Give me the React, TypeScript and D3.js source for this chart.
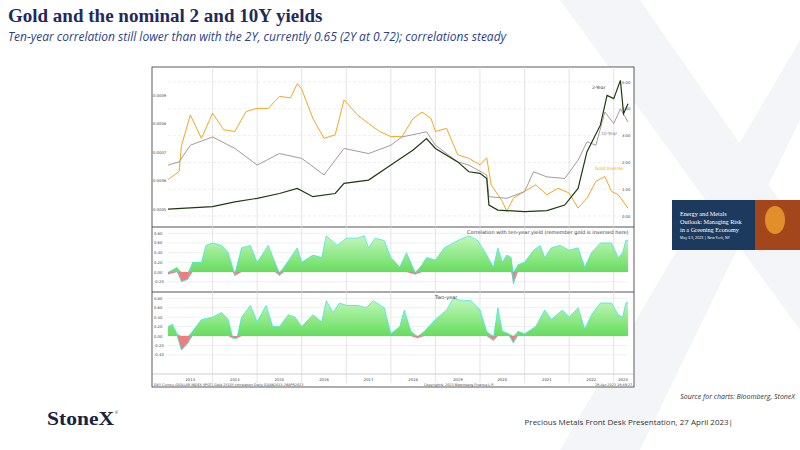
import React from "react";
import * as d3 from "d3";

const goldDates = [2013.0,2013.25,2013.3,2013.5,2013.75,2014.0,2014.25,2014.5,2014.75,2015.0,2015.25,2015.5,2015.75,2015.9,2016.0,2016.25,2016.5,2016.75,2016.95,2017.25,2017.5,2017.75,2018.0,2018.25,2018.5,2018.7,2018.9,2019.0,2019.25,2019.5,2019.75,2020.0,2020.15,2020.25,2020.5,2020.6,2020.75,2021.0,2021.25,2021.5,2021.75,2022.0,2022.2,2022.4,2022.6,2022.8,2022.95,2023.1,2023.32];
const goldInverse = [0.000603,0.000632,0.00072,0.00083,0.000748,0.000836,0.000778,0.000772,0.000842,0.000853,0.000853,0.000895,0.00089,0.00094,0.00092,0.000818,0.000748,0.00076,0.000883,0.00083,0.0008,0.000772,0.000754,0.000754,0.000818,0.00084,0.000818,0.000772,0.000783,0.00069,0.000678,0.000655,0.00068,0.000585,0.000527,0.000492,0.000538,0.000562,0.000585,0.00055,0.000573,0.000556,0.000503,0.000538,0.000597,0.000614,0.000562,0.00055,0.000503];

const y2Dates = [2013.0,2014.0,2014.5,2015.0,2015.5,2015.9,2016.25,2016.75,2016.95,2017.5,2018.0,2018.5,2018.8,2019.0,2019.5,2019.75,2020.0,2020.15,2020.2,2020.4,2021.0,2021.5,2021.9,2022.2,2022.4,2022.7,2022.85,2023.0,2023.15,2023.22,2023.32];
const yield2Y = [0.26,0.35,0.53,0.66,0.84,1.03,0.72,0.84,1.22,1.34,1.9,2.46,2.89,2.52,2.02,1.65,1.59,1.4,0.41,0.22,0.16,0.2,0.41,1.03,2.4,3.39,4.5,4.38,5.06,3.82,4.19];

const y10Dates = [2013.0,2013.25,2013.5,2014.0,2014.5,2015.0,2015.5,2016.0,2016.5,2016.95,2017.5,2018.0,2018.25,2018.8,2019.0,2019.5,2019.75,2020.15,2020.2,2020.6,2021.0,2021.2,2021.5,2021.9,2022.2,2022.4,2022.6,2022.8,2023.0,2023.15,2023.32];
const yield10Y = [1.9,2.02,2.64,2.95,2.52,1.9,2.33,2.15,1.53,2.52,2.33,2.64,2.95,3.14,2.64,2.02,1.9,1.53,0.72,0.66,0.91,1.65,1.46,1.4,2.08,2.77,2.64,3.88,3.45,4.0,3.51];

const c10Dates = [2013.0,2013.2,2013.3,2013.45,2013.55,2013.75,2013.85,2014.0,2014.2,2014.35,2014.45,2014.5,2014.65,2014.85,2015.0,2015.25,2015.4,2015.5,2015.6,2015.9,2016.0,2016.25,2016.45,2016.55,2016.8,2017.0,2017.25,2017.4,2017.5,2017.65,2017.85,2018.0,2018.2,2018.35,2018.55,2018.7,2018.8,2019.0,2019.2,2019.5,2019.75,2019.95,2020.15,2020.3,2020.4,2020.5,2020.6,2020.7,2020.75,2020.85,2021.0,2021.2,2021.35,2021.45,2021.6,2021.8,2022.0,2022.2,2022.35,2022.5,2022.7,2022.95,2023.1,2023.2,2023.27,2023.32];
const corr10Y = [-0.05,0.1,-0.2,-0.15,0.2,0.2,0.55,0.6,0.55,0.4,0.1,-0.08,0.5,0.55,0.2,0.55,0.2,-0.08,0.1,0.5,0.2,0.35,0.3,0.75,0.55,0.7,0.7,0.75,0.5,0.7,0.65,0.3,0.1,0.4,-0.05,0.15,0.3,0.25,0.5,0.65,0.75,0.65,0.35,0.1,0.5,0.2,0.35,0.3,-0.25,0.15,0.2,0.45,0.55,0.3,0.5,0.55,0.45,0.5,0.1,0.4,0.6,0.6,0.3,0.4,0.65,0.65];

const c2Dates = [2013.0,2013.1,2013.2,2013.3,2013.45,2013.55,2013.75,2014.0,2014.2,2014.35,2014.45,2014.55,2014.65,2014.85,2015.0,2015.2,2015.35,2015.5,2015.7,2015.85,2016.0,2016.25,2016.45,2016.55,2016.7,2016.85,2017.0,2017.25,2017.45,2017.6,2017.85,2018.0,2018.2,2018.3,2018.45,2018.6,2018.75,2019.0,2019.25,2019.4,2019.6,2019.8,2020.0,2020.15,2020.3,2020.4,2020.5,2020.65,2020.75,2020.85,2021.0,2021.25,2021.45,2021.6,2021.85,2022.0,2022.2,2022.35,2022.5,2022.7,2022.95,2023.1,2023.2,2023.27,2023.32];
const corr2Y = [0.2,0.25,0.05,-0.3,-0.15,0.1,0.35,0.4,0.5,0.35,-0.05,-0.05,0.4,0.65,0.3,0.65,0.2,0.2,0.45,0.4,0.2,0.45,0.3,0.75,0.5,0.7,0.65,0.65,0.6,0.75,0.6,0.05,0.2,0.55,0.1,-0.05,0.1,0.35,0.55,0.8,0.75,0.75,0.55,0.1,-0.1,0.6,0.1,0.05,-0.15,0.1,0.05,0.2,0.55,0.35,0.55,0.4,0.6,0.15,0.45,0.7,0.7,0.45,0.4,0.7,0.72];

const years = ["2013","2014","2015","2016","2017","2018","2019","2020","2021","2022","2023"];
const rightTicks = [0, 1, 2, 3, 4, 5];
const leftTicks = [0.0005, 0.0006, 0.0007, 0.0008, 0.0009];
const corr10Ticks = [-0.2, 0, 0.2, 0.4, 0.6, 0.8];
const corr2Ticks = [-0.4, -0.2, 0, 0.2, 0.4, 0.6, 0.8];

const navy = "#1f2a5c";

function CorrPanel({ dates, vals, y, ticks, x, id, label, labelX }: any) {
  const pts = dates.map((d: number, i: number) => [d, vals[i]] as [number, number]);
  const pos = d3.area<[number, number]>().x(d => x(d[0])).y0(y(0)).y1(d => y(Math.max(0, d[1])));
  const neg = d3.area<[number, number]>().x(d => x(d[0])).y0(y(0)).y1(d => y(Math.min(0, d[1])));
  const ln = d3.line<[number, number]>().x(d => x(d[0])).y(d => y(d[1]));
  return (
    <g>
      <defs>
        <linearGradient id={id} x1="0" y1="0" x2="0" y2="1">
          <stop offset="0" stopColor="#c4f7bc" />
          <stop offset="1" stopColor="#66dd5e" />
        </linearGradient>
      </defs>
      {ticks.map((t: number) => (
        <g key={t}>
          <line x1={168} x2={627} y1={y(t)} y2={y(t)} stroke="#e4e4e4" strokeWidth={0.6} />
          <text x={154} y={y(t) + 1.5} fontSize={3.8} fill="#444">{t.toFixed(2)}</text>
        </g>
      ))}
      <path d={pos(pts) || ""} fill={`url(#${id})`} />
      <path d={neg(pts) || ""} fill="#f27b7b" />
      <path d={ln(pts) || ""} fill="none" stroke="#3fe8e8" strokeWidth={0.8} />
      <text x={labelX} y={y(0.8) + 1} fontSize={5} fill="#444">{label}</text>
    </g>
  );
}

export default function App() {
  const x = d3.scaleLinear().domain([2013.0, 2023.32]).range([168, 628]);
  const yR = d3.scaleLinear().domain([0, 5]).range([216, 82]);
  const yL = d3.scaleLinear().domain([0.0005, 0.0009]).range([209, 95]);
  const y10 = d3.scaleLinear().domain([0, 0.8]).range([272, 233.3]);
  const y2 = d3.scaleLinear().domain([0, 0.8]).range([336, 298.3]);
  const mk = (ds: number[], vs: number[], ys: any) =>
    d3.line<number>().x((_, i) => x(ds[i])).y(v => ys(v)).curve(d3.curveLinear)(vs) || "";

  return (
    <svg width={800} height={450} style={{ position: "absolute", left: 0, top: 0, background: "#fff" }}>
      <path d="M560,0 L640,0 L800,230 L800,330 Z M800,40 L800,120 L640,450 L560,450 Z" fill="#f4f5f8" />
      <text x={8} y={22} fontFamily="Liberation Serif" fontWeight="bold" fontSize={19} fill={navy}>Gold and the nominal 2 and 10Y yields</text>
      <text x={8} y={41} fontFamily="Open Sans" fontStyle="italic" fontSize={12} fill="#2d3f8c">Ten-year correlation still lower than with the 2Y, currently 0.65 (2Y at 0.72); correlations steady</text>

      <rect x={152} y={67} width={482} height={320} fill="#fff" stroke="#333" strokeWidth={0.8} />
      <line x1={152} x2={634} y1={227} y2={227} stroke="#555" strokeWidth={1.2} />
      <line x1={152} x2={634} y1={292} y2={292} stroke="#555" strokeWidth={1.2} />
      <line x1={152} x2={634} y1={374} y2={374} stroke="#999" strokeWidth={0.5} />

      <g fontFamily="DejaVu Sans">
        {years.map((yr, i) => (
          <g key={yr}>
            {i > 0 && <line x1={x(2013 + i)} x2={x(2013 + i)} y1={67} y2={383} stroke="#d8d8d8" strokeWidth={0.7} />}
            <text x={Math.min(x(2013.5 + i), 623)} y={381} fontSize={3.8} fill="#444" textAnchor="middle">{yr}</text>
          </g>
        ))}
        {rightTicks.map(t => (
          <g key={t}>
            <line x1={168} x2={627} y1={yR(t)} y2={yR(t)} stroke="#e2e2e2" strokeWidth={0.6} strokeDasharray="3,2" />
            <text x={622} y={yR(t) + 1.5} fontSize={3.8} fill="#444">{t.toFixed(2)}</text>
          </g>
        ))}
        {leftTicks.map(t => (
          <text key={t} x={153} y={yL(t) + 1.5} fontSize={3.8} fill="#444">{t.toFixed(4)}</text>
        ))}
        <path d={mk(goldDates, goldInverse, yL)} fill="none" stroke="#f5a623" strokeWidth={1} />
        <path d={mk(y10Dates, yield10Y, yR)} fill="none" stroke="#9a8f8c" strokeWidth={0.9} />
        <path d={mk(y2Dates, yield2Y, yR)} fill="none" stroke="#1e3a10" strokeWidth={1.2} />
        <text x={592} y={89} fontSize={4.5} fill="#333">2-Year</text>
        <text x={601} y={135} fontSize={4.5} fill="#888">10-Year</text>
        <text x={595} y={170} fontSize={4.5} fill="#f5a623">Gold Inverse</text>

        <CorrPanel dates={c10Dates} vals={corr10Y} y={y10} ticks={corr10Ticks} x={x} id="g10" label="Correlation with ten-year yield (remember gold is inversed here)" labelX={467} />
        <CorrPanel dates={c2Dates} vals={corr2Y} y={y2} ticks={corr2Ticks} x={x} id="g2" label="Two-year" labelX={435} />

        <text x={154} y={386} fontSize={3.4} fill="#444">DXY Curncy (DOLLAR INDEX SPOT) Gold 2Y10Y correlation  Daily 02JAN2013-26APR2023</text>
        <text x={424} y={386} fontSize={3.4} fill="#444">Copyright© 2023 Bloomberg Finance L.P.</text>
        <text x={595} y={386} fontSize={3.4} fill="#444">26-Apr-2023 16:49:27</text>
      </g>

      <rect x={672} y={200} width={128} height={50} fill="#1c3a5e" />
      <rect x={755} y={200} width={45} height={50} fill="#a4461c" />
      <ellipse cx={775} cy={220} rx={10} ry={14} fill="#f0a030" opacity={0.8} />
      <g fontFamily="Liberation Serif" fill="#fff" fontSize={6.2}>
        <text x={680} y={216}>Energy and Metals</text>
        <text x={680} y={224}>Outlook: Managing Risk</text>
        <text x={680} y={232}>in a Greening Economy</text>
        <text x={680} y={239} fontFamily="Open Sans" fontSize={3.6}>May 3-5, 2023 | New York, NY</text>
      </g>

      <text x={795} y={399} fontFamily="Open Sans" fontStyle="italic" fontSize={7} fill="#333" textAnchor="end">Source for charts: Bloomberg, StoneX</text>
      <text x={47} y={425} fontFamily="Liberation Serif" fontWeight="bold" fontSize={19} fill="#1a2340" textLength={67} lengthAdjust="spacingAndGlyphs">StoneX</text>
      <text x={115} y={414} fontFamily="Open Sans" fontSize={3.5} fill="#1a2340">®</text>
      <text x={733} y={425} fontFamily="Open Sans" fontSize={8} fill="#333" textAnchor="end">Precious Metals Front Desk Presentation, 27 April 2023|</text>
    </svg>
  );
}
